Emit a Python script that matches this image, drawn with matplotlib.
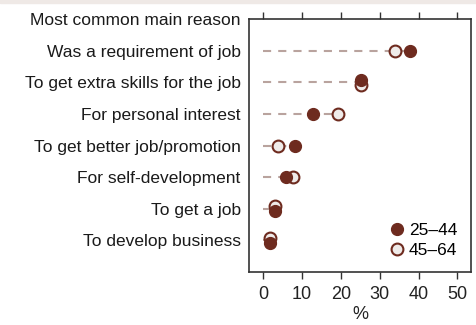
import numpy as np
import matplotlib.pyplot as plt
from matplotlib.patches import Rectangle

reasons = ["Was a requirement of job", "To get extra skills for the job",
           "For personal interest", "To get better job/promotion",
           "For self-development", "To get a job", "To develop business"]
age_25_44 = [37.8, 25.1, 12.7, 8.1, 5.8, 3.1, 1.8]
age_45_64 = [33.9, 25.1, 19.3, 3.8, 7.7, 3.0, 1.8]
# small vertical nudge where the two markers sit on top of each other
nudge_25_44 = [0, -0.08, 0, 0, 0, 0.08, 0.08]
nudge_45_64 = [0, 0.08, 0, 0, 0, -0.08, -0.08]

dark = "#6e2b1f"
light = "#efebe9"
guide = "#b9a39e"

plt.rcParams['font.family'] = ['Liberation Sans', 'DejaVu Sans']

fig = plt.figure(figsize=(4.77, 3.25), dpi=100)
ax = fig.add_axes([249 / 477, 53 / 325, 222 / 477, 253 / 325])
fig.patches.append(Rectangle((0, 1 - 3 / 325), 1, 3 / 325, transform=fig.transFigure,
                             color="#efe9e6", zorder=0))

y = np.arange(len(reasons))
for i in y:
    hi = max(age_25_44[i], age_45_64[i])
    ax.plot([0, hi], [i, i], ls=(0, (3.9, 3.4)), lw=1.5, color=guide, zorder=1)

ax.plot(age_25_44, y + np.array(nudge_25_44), 'o', ms=8.5, color=dark,
        label="25\u201344", zorder=3)
ax.plot(age_45_64, y + np.array(nudge_45_64), 'o', ms=8.5, mfc=light,
        mec=dark, mew=1.5, label="45\u201364", zorder=2)

ax.set_xlim(-3.7, 53.5)
ax.set_ylim(7, -1)
ax.set_yticks(np.arange(-1, len(reasons)))
ax.set_yticklabels(["Most common main reason"] + reasons, fontsize=12.5, color="#1a1a1a")
ax.tick_params(axis='y', length=0, pad=6)
ax.set_xticks(np.arange(0, 51, 10))
ax.tick_params(axis='x', top=True, labeltop=False, direction='out', length=5,
               width=1, labelsize=13, color="#333333", labelcolor="#222222", pad=5)
ax.set_xlabel("%", fontsize=13, color="#222222", labelpad=2)
for s in ax.spines.values():
    s.set_linewidth(1.2)
    s.set_color("#333333")

ax.legend(loc="lower right", frameon=False, fontsize=12.5, handletextpad=0.1,
          borderaxespad=0.3, labelspacing=0.3, handlelength=1.2,
          bbox_to_anchor=(0.993, 0.007))

fig.savefig("out.png", dpi=100)
